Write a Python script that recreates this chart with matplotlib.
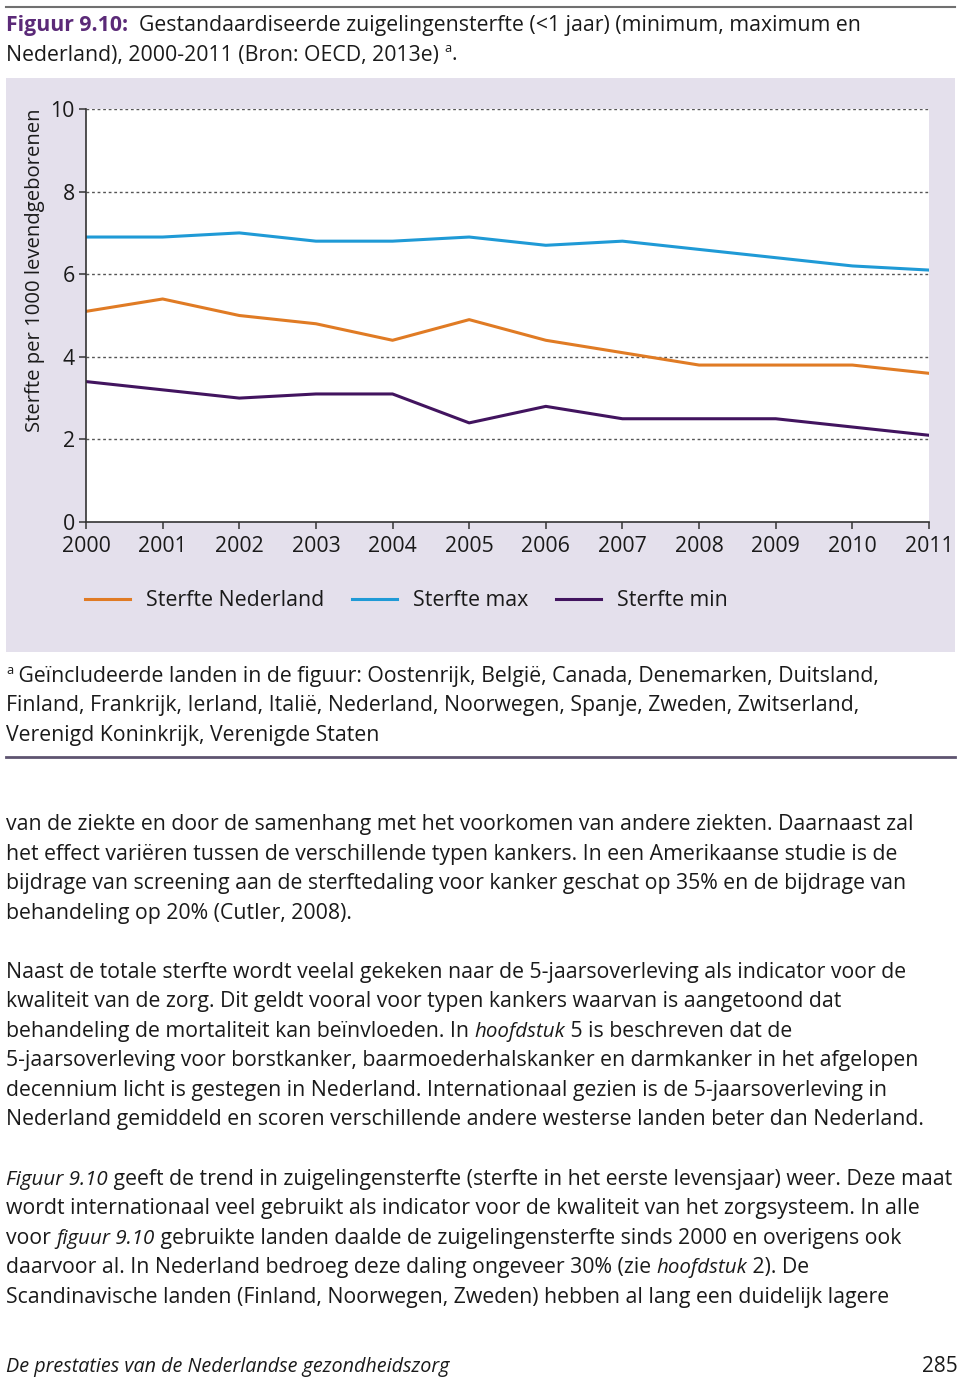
import matplotlib
matplotlib.use("Agg")
import matplotlib.pyplot as plt
from matplotlib.patches import Rectangle
from matplotlib.lines import Line2D
from matplotlib.font_manager import FontProperties

# data (sterfte per 1000 levendgeborenen)
years = list(range(2000, 2012))
sterfte_nl = [5.1, 5.4, 5.0, 4.8, 4.4, 4.9, 4.4, 4.1, 3.8, 3.8, 3.8, 3.6]
sterfte_max = [6.9, 6.9, 7.0, 6.8, 6.8, 6.9, 6.7, 6.8, 6.6, 6.4, 6.2, 6.1]
sterfte_min = [3.4, 3.2, 3.0, 3.1, 3.1, 2.4, 2.8, 2.5, 2.5, 2.5, 2.3, 2.1]
series_names = ["Sterfte Nederland", "Sterfte max", "Sterfte min"]
yticks = [0, 2, 4, 6, 8, 10]
ylabel = "Sterfte per 1000 levendgeborenen"

title_lines = [
    [("Figuur 9.10:", "bold"), ("  Gestandaardiseerde zuigelingensterfte (<1 jaar) (minimum, maximum en", "")],
    [("Nederland), 2000-2011 (Bron: OECD, 2013e) ", ""), ("a", "sup"), (".", "")],
]
footnote_lines = [
    [("a", "sup"), (" Geïncludeerde landen in de figuur: Oostenrijk, België, Canada, Denemarken, Duitsland,", "")],
    [("Finland, Frankrijk, Ierland, Italië, Nederland, Noorwegen, Spanje, Zweden, Zwitserland,", "")],
    [("Verenigd Koninkrijk, Verenigde Staten", "")],
]
body_paragraphs = [
    [
        [("van de ziekte en door de samenhang met het voorkomen van andere ziekten. Daarnaast zal", "")],
        [("het effect variëren tussen de verschillende typen kankers. In een Amerikaanse studie is de", "")],
        [("bijdrage van screening aan de sterftedaling voor kanker geschat op 35% en de bijdrage van", "")],
        [("behandeling op 20% (Cutler, 2008).", "")],
    ],
    [
        [("Naast de totale sterfte wordt veelal gekeken naar de 5-jaarsoverleving als indicator voor de", "")],
        [("kwaliteit van de zorg. Dit geldt vooral voor typen kankers waarvan is aangetoond dat", "")],
        [("behandeling de mortaliteit kan beïnvloeden. In ", ""), ("hoofdstuk", "italic"), (" 5 is beschreven dat de", "")],
        [("5-jaarsoverleving voor borstkanker, baarmoederhalskanker en darmkanker in het afgelopen", "")],
        [("decennium licht is gestegen in Nederland. Internationaal gezien is de 5-jaarsoverleving in", "")],
        [("Nederland gemiddeld en scoren verschillende andere westerse landen beter dan Nederland.", "")],
    ],
    [
        [("Figuur 9.10", "italic"), (" geeft de trend in zuigelingensterfte (sterfte in het eerste levensjaar) weer. Deze maat", "")],
        [("wordt internationaal veel gebruikt als indicator voor de kwaliteit van het zorgsysteem. In alle", "")],
        [("voor ", ""), ("figuur 9.10", "italic"), (" gebruikte landen daalde de zuigelingensterfte sinds 2000 en overigens ook", "")],
        [("daarvoor al. In Nederland bedroeg deze daling ongeveer 30% (zie ", ""), ("hoofdstuk", "italic"), (" 2). De", "")],
        [("Scandinavische landen (Finland, Noorwegen, Zweden) hebben al lang een duidelijk lagere", "")],
    ],
]
footer_left = "De prestaties van de Nederlandse gezondheidszorg"
footer_right = "285"

FONT = ["Open Sans", "DejaVu Sans"]
TXT = "#1a1a1a"
PURPLE_TITLE = "#5b2a78"
colors = ["#e07b24", "#1f9ad6", "#42145f"]
LAVENDER = "#e4e0ec"
SIZE = 15.35

W, H = 960, 1381
fig = plt.figure(figsize=(W / 100, H / 100), dpi=100)
renderer = fig.canvas.get_renderer()


def fx(x):
    return x / W


def fy(y):
    return 1 - y / H


def text_width(s, fp):
    # measure with sentinels so leading/trailing spaces count
    w1, _, _ = renderer.get_text_width_height_descent("|" + s + "|", fp, ismath=False)
    w0, _, _ = renderer.get_text_width_height_descent("||", fp, ismath=False)
    return w1 - w0


def rich_line(x, base, parts, size, color=TXT):
    for txt, style in parts:
        fp = FontProperties(family=FONT, size=size)
        c = color
        dy = 0
        if style == "bold":
            fp.set_weight("bold")
            c = PURPLE_TITLE
        elif style == "italic":
            fp.set_style("italic")
            fp.set_size(size * 0.96)  # reference italic is a bit narrower
        elif style == "sup":
            fp.set_size(size * 0.6)
            dy = -size * 0.55
        fig.text(fx(x), fy(base + dy), txt, fontproperties=fp, color=c, va="baseline", ha="left")
        x += text_width(txt, fp)


# top rule
fig.add_artist(Line2D([fx(6), fx(955)], [fy(7), fy(7)], color="#707070", lw=1.5))

# title
for i, parts in enumerate(title_lines):
    rich_line(6, 31 + i * 29.5, parts, SIZE)

# chart background
fig.add_artist(Rectangle((fx(6), fy(652)), fx(955) - fx(6), fy(78) - fy(652),
                         facecolor=LAVENDER, edgecolor="none", zorder=0))

ax = fig.add_axes([fx(86), fy(522), fx(929) - fx(86), fy(109) - fy(522)])
ax.set_facecolor("white")
for vals, name, col in zip([sterfte_nl, sterfte_max, sterfte_min], series_names, colors):
    ax.plot(years, vals, color=col, lw=2.2, label=name, solid_joinstyle="round")

ax.set_xlim(years[0], years[-1])
ax.set_ylim(0, 10)
ax.set_yticks(yticks)
ax.set_xticks(years)
ax.set_xticklabels([str(y) for y in years])
for t in yticks[1:]:
    ax.axhline(t, color="#555555", lw=1, ls=(0, (2, 2)), zorder=0)
for s in ["top", "right"]:
    ax.spines[s].set_visible(False)
for s in ["left", "bottom"]:
    ax.spines[s].set_color("#333333")
    ax.spines[s].set_linewidth(1.2)
ax.tick_params(axis="both", colors="#333333", labelcolor=TXT, length=5, width=1.1,
               labelsize=15.3)
ax.tick_params(axis="x", pad=5)
ax.tick_params(axis="y", pad=3)
for lab in ax.get_xticklabels() + ax.get_yticklabels():
    lab.set_family(FONT)

fig.text(fx(35), fy(270), ylabel, rotation=90, ha="center", va="center",
         fontsize=14.6, family=FONT, color=TXT)

leg = ax.legend(loc="center left", bbox_to_anchor=(fx(85), fy(601)),
                bbox_transform=fig.transFigure, ncol=3, frameon=False,
                prop=FontProperties(family=FONT, size=15.4), handlelength=2.1,
                handletextpad=0.75, columnspacing=1.3, borderpad=0, borderaxespad=0)
for t in leg.get_texts():
    t.set_color(TXT)

# footnote
for i, parts in enumerate(footnote_lines):
    rich_line(6, 682 + i * 29.5, parts, SIZE)

fig.add_artist(Line2D([fx(6), fx(955)], [fy(757), fy(757)], color="#5e5470", lw=2))

# body text
base = 830
for p, para in enumerate(body_paragraphs):
    for parts in para:
        rich_line(6, base, parts, SIZE)
        base += 29.55
    base += 29.55

# footer
fp_foot = FontProperties(family=FONT, size=14.2, style="italic")
fig.text(fx(6), fy(1372), footer_left, fontproperties=fp_foot, color=TXT, va="baseline")
fig.text(fx(958), fy(1372), footer_right, fontproperties=FontProperties(family=FONT, size=15),
         color=TXT, va="baseline", ha="right")

fig.savefig("out.png", dpi=100, facecolor="white")
